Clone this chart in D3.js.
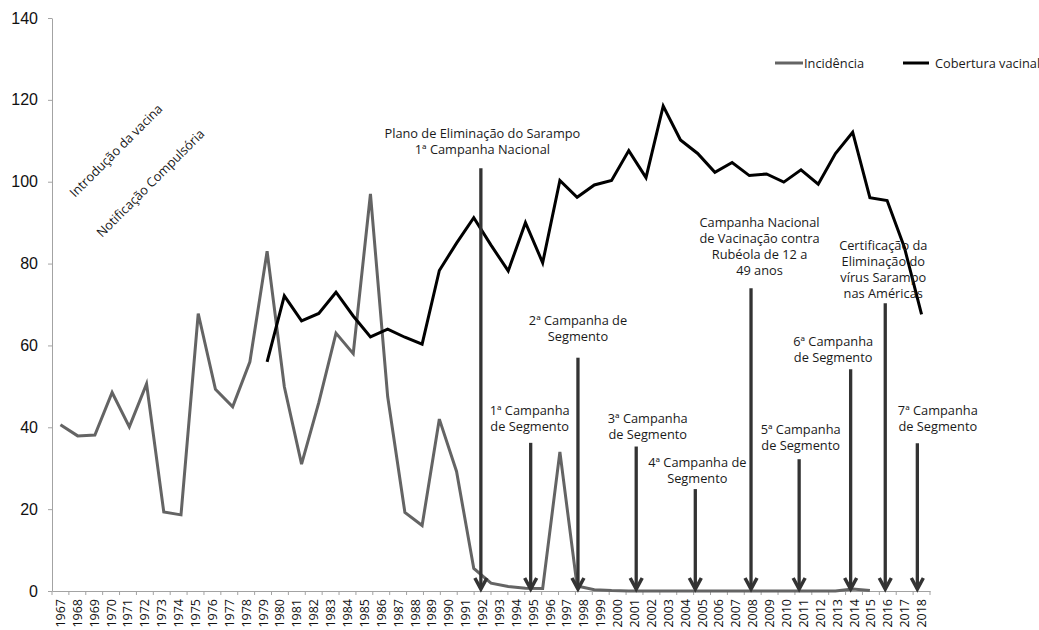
<!DOCTYPE html>
<html lang="pt">
<head>
<meta charset="UTF-8">
<title>Sarampo: incidência e cobertura vacinal, 1967-2018</title>
<script src="https://d3js.org/d3.v7.min.js"></script>
<style>
  body { margin: 0; background: #fff; }
  svg { display: block; }
  .note { font-family: "Open Sans", Lato, sans-serif; font-size: 12.8px; fill: #1a1a1a; }
</style>
</head>
<body>
<svg width="1039" height="630"></svg>
<script>
// x axis categories
const years = [1967, 1968, 1969, 1970, 1971, 1972, 1973, 1974, 1975, 1976, 1977, 1978, 1979,
  1980, 1981, 1982, 1983, 1984, 1985, 1986, 1987, 1988, 1989, 1990, 1991, 1992, 1993,
  1994, 1995, 1996, 1997, 1998, 1999, 2000, 2001, 2002, 2003, 2004, 2005, 2006, 2007,
  2008, 2009, 2010, 2011, 2012, 2013, 2014, 2015, 2016, 2017, 2018];
const yTicks = [0, 20, 40, 60, 80, 100, 120, 140];

// Incidência, one value a year from 1967
const incidenceStart = 1967;
const incidence = [40.6, 37.9, 38.1, 48.5, 40.1, 50.6, 19.3, 18.6, 67.8, 49.3,
  45.0, 56.0, 83.0, 49.9, 31.0, 46.0, 63.0, 58.0, 97.0, 47.5,
  19.2, 16.0, 42.0, 29.2, 5.5, 1.9, 1.1, 0.7, 0.6, 34.0,
  1.2, 0.3, 0.1, 0.0, 0.0, 0.0, 0.0, 0.0, 0.0, 0.0,
  0.0, 0.0, 0.0, 0.0, 0.0, 0.0, 0.5, 0.1];

// Cobertura vacinal, one value a year from 1979
const coverageStart = 1979;
const coverage = [56.0, 72.1, 66.0, 67.8, 73.0, 67.2, 62.1, 64.0, 62.0, 60.3,
  78.3, 85.0, 91.2, 84.5, 78.2, 90.0, 80.2, 100.3, 96.2, 99.2,
  100.3, 107.6, 101.0, 118.5, 110.2, 106.9, 102.3, 104.7, 101.5, 101.9,
  99.9, 102.9, 99.4, 106.9, 112.1, 96.1, 95.4, 84.0, 67.6];

const seriesNames = ["Incidência", "Cobertura vacinal"];

// arrows: where they point on the year axis, and how high they start
const markYears = [1991.9, 1994.85, 1997.65, 2001.1, 2004.6, 2007.9, 2010.75, 2013.8, 2015.85, 2017.75];
const markTops = [103.3, 36.2, 57.0, 35.3, 24.9, 74.0, 32.2, 54.2, 70.3, 36.1];
const markTexts = [
  ["Plano de Eliminação do Sarampo", "1ª Campanha Nacional"],
  ["1ª Campanha", "de Segmento"],
  ["2ª Campanha de", "Segmento"],
  ["3ª Campanha", "de Segmento"],
  ["4ª Campanha de", "Segmento"],
  ["Campanha Nacional", "de Vacinação contra", "Rubéola de 12 a", "49 anos"],
  ["5ª Campanha", "de Segmento"],
  ["6ª Campanha", "de Segmento"],
  ["Certificação da", "Eliminação do", "vírus  Sarampo", "nas Américas"],
  ["7ª Campanha", "de Segmento"]
];
const sideNotes = ["Introdução da vacina", "Notificação Compulsória"];

// layout
const width = 1039, height = 630;
const margin = {top: 18, right: 109, bottom: 39, left: 52};
// label offsets for the arrow texts (dx from arrow, baseline of first line)
const noteDx = [1.5, -1, 0, 11.5, 2, 8.5, 1.5, -17.5, -2, 20.5];
const noteY = [138, 415, 325, 423, 467, 227, 434, 346, 250, 415];

const svg = d3.select("svg").attr("width", width).attr("height", height);

const x = d3.scaleBand()
  .domain(years)
  .range([margin.left, width - margin.right]);

const y = d3.scaleLinear()
  .domain([0, 140])
  .range([height - margin.bottom, margin.top]);

const first = x(years[0]) + x.bandwidth() / 2;
const last = x(years[years.length - 1]) + x.bandwidth() / 2;

// the arrows follow the axis labels
const xYear = d3.scaleLinear().domain([1967, 2018]).range([first, last]);
// the two lines were plotted on a slightly wider year step than the labels
const xLine = d3.scaleLinear().domain([1967, 2017]).range([first, last]);

const axisColor = "#a3a3a3";

// y axis
svg.append("g")
  .attr("transform", `translate(${margin.left},0)`)
  .call(d3.axisLeft(y).tickValues(yTicks).tickSize(4).tickSizeOuter(0).tickPadding(10))
  .call(g => g.select(".domain").attr("stroke", axisColor))
  .call(g => g.selectAll(".tick line").attr("stroke", axisColor))
  .call(g => g.selectAll(".tick text")
    .attr("font-family", "'Liberation Sans', Arial, sans-serif")
    .attr("font-size", 16)
    .attr("fill", "#111"));

// x axis
const xAxis = svg.append("g")
  .attr("transform", `translate(0,${y(0)})`)
  .call(d3.axisBottom(x).tickSize(0).tickSizeOuter(0))
  .call(g => g.select(".domain").attr("stroke", axisColor));

xAxis.selectAll(".tick text")
  .attr("transform", "rotate(-90)")
  .attr("text-anchor", "end")
  .attr("x", -8)
  .attr("y", 0)
  .attr("dy", "0.36em")
  .attr("font-family", "'Open Sans', sans-serif")
  .attr("font-size", 12.5)
  .attr("fill", "#111");

// tick marks sit between the year labels
xAxis.selectAll(".edge")
  .data(years.concat(["end"]))
  .enter()
  .append("line")
  .attr("class", "edge")
  .attr("x1", d => d === "end" ? x.range()[1] : x(d))
  .attr("x2", d => d === "end" ? x.range()[1] : x(d))
  .attr("y1", 0)
  .attr("y2", 4)
  .attr("stroke", axisColor);

// lines
const incLine = d3.line()
  .x((d, i) => xLine(incidenceStart + i))
  .y(d => y(d));
const covLine = d3.line()
  .x((d, i) => xLine(coverageStart + i))
  .y(d => y(d));

svg.append("path")
  .datum(incidence)
  .attr("d", incLine)
  .attr("fill", "none")
  .attr("stroke", "#646464")
  .attr("stroke-width", 3);

svg.append("path")
  .datum(coverage)
  .attr("d", covLine)
  .attr("fill", "none")
  .attr("stroke", "#000")
  .attr("stroke-width", 3);

// arrows
const arrowColor = "#333";
const arrows = svg.append("g");
markYears.forEach((yr, i) => {
  const ax = xYear(yr);
  const tip = y(0) - 2;
  arrows.append("line")
    .attr("x1", ax).attr("x2", ax)
    .attr("y1", y(markTops[i])).attr("y2", tip)
    .attr("stroke", arrowColor)
    .attr("stroke-width", 3.3);
  arrows.append("path")
    .attr("d", `M${ax - 6},${tip - 11}L${ax},${tip}L${ax + 6},${tip - 11}`)
    .attr("fill", "none")
    .attr("stroke", arrowColor)
    .attr("stroke-width", 3.5);

  const t = svg.append("text")
    .attr("class", "note")
    .attr("text-anchor", "middle");
  markTexts[i].forEach((line, j) => {
    t.append("tspan")
      .attr("x", ax + noteDx[i])
      .attr("y", noteY[i] + j * 16)
      .text(line);
  });
});

// rotated notes at the left
const sidePos = [[75, 198], [102, 238]];
sideNotes.forEach((s, i) => {
  svg.append("text")
    .attr("class", "note")
    .attr("transform", `translate(${sidePos[i][0]},${sidePos[i][1]}) rotate(-45)`)
    .text(s);
});

// legend
const legend = svg.append("g");
const legendItems = [
  {x1: 775, x2: 803, tx: 804, color: "#646464"},
  {x1: 903, x2: 929, tx: 935, color: "#000"}
];
legendItems.forEach((l, i) => {
  legend.append("line")
    .attr("x1", l.x1).attr("x2", l.x2)
    .attr("y1", 63).attr("y2", 63)
    .attr("stroke", l.color)
    .attr("stroke-width", 3);
  legend.append("text")
    .attr("class", "note")
    .attr("x", l.tx)
    .attr("y", 67.5)
    .text(seriesNames[i]);
});
</script>
</body>
</html>
